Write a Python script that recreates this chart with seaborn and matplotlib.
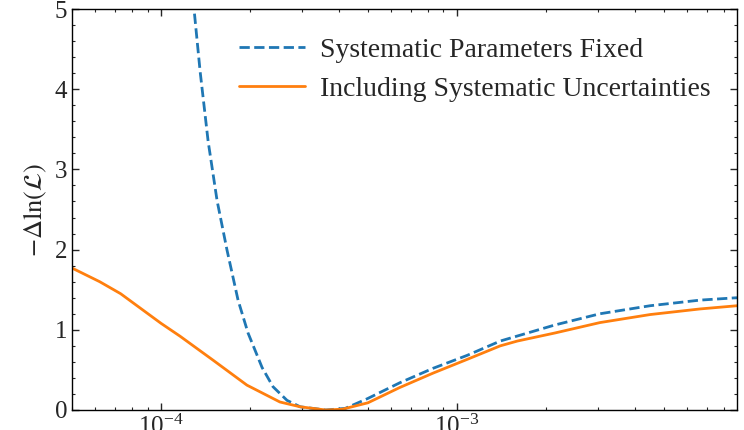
import numpy as np
import pandas as pd
import matplotlib
matplotlib.use('Agg')
import matplotlib.pyplot as plt
from matplotlib.ticker import AutoMinorLocator, LogLocator, NullFormatter
import seaborn as sns

# values
fixed_x = [1.254e-4, 1.292e-4, 1.355e-4, 1.442e-4, 1.546e-4, 1.671e-4, 1.82e-4,
           1.967e-4, 2.194e-4, 2.389e-4, 2.664e-4, 2.951e-4, 3.6e-4, 4.19e-4, 4.97e-4,
           6.41e-4, 8.30e-4, 1.08e-3, 1.40e-3, 2.14e-3, 3.04e-3, 4.49e-3, 6.62e-3, 8.83e-3]
fixed_y = [5.5, 5.0, 4.22, 3.35, 2.61, 1.99, 1.37,
           0.96, 0.53, 0.29, 0.12, 0.04, 0.0, 0.02, 0.14,
           0.34, 0.52, 0.68, 0.86, 1.06, 1.20, 1.30, 1.37, 1.40]

syst_x = [5.0e-5, 6.2e-5, 7.3e-5, 1.0e-4, 1.159e-4, 1.50e-4, 1.95e-4, 2.52e-4, 2.95e-4,
          3.6e-4, 4.1e-4, 5.0e-4, 6.4e-4, 8.3e-4, 1.08e-3, 1.4e-3, 1.6e-3, 2.14e-3,
          3.04e-3, 4.49e-3, 6.62e-3, 8.83e-3]
syst_y = [1.77, 1.60, 1.45, 1.08, 0.92, 0.62, 0.31, 0.10, 0.04,
          0.0, 0.01, 0.09, 0.28, 0.46, 0.63, 0.80, 0.86, 0.96,
          1.09, 1.19, 1.26, 1.30]

labels = ['Systematic Parameters Fixed', 'Including Systematic Uncertainties']

df_fixed = pd.DataFrame({'x': fixed_x, 'y': fixed_y})
df_syst = pd.DataFrame({'x': syst_x, 'y': syst_y})

sns.set_style('ticks')
plt.rcParams['font.family'] = ['Liberation Serif', 'DejaVu Serif']
plt.rcParams['mathtext.fontset'] = 'stix'

fig = plt.figure(figsize=(7.44, 4.30), dpi=100)
ax = fig.add_axes([72 / 744, 20 / 430, 665 / 744, 401 / 430])

sns.lineplot(data=df_fixed, x='x', y='y', ax=ax, color='#1f77b4', linestyle='--',
             linewidth=2, label=labels[0], sort=False)
sns.lineplot(data=df_syst, x='x', y='y', ax=ax, color='#ff7f0e', linewidth=2,
             label=labels[1], sort=False)

ax.set_xscale('log')
ax.set_xlim(5.0e-5, 8.83e-3)
ax.set_ylim(0, 5)
ax.set_xlabel('')
ax.set_ylabel(r'$-\Delta\ln(\mathcal{L})$', fontsize=19)

ax.yaxis.set_minor_locator(AutoMinorLocator(5))
ax.xaxis.set_minor_locator(LogLocator(base=10, subs=np.arange(2, 10)))
ax.xaxis.set_minor_formatter(NullFormatter())
ax.tick_params(which='both', direction='in', top=True, right=True, labelsize=18)
ax.tick_params(which='major', length=5, width=1)
ax.tick_params(which='minor', length=2.5, width=0.8)
for s in ax.spines.values():
    s.set_linewidth(1)
    s.set_color('black')

ax.legend(loc='upper right', bbox_to_anchor=(0.998, 0.992), frameon=False, fontsize=20,
          handlelength=2.35, handletextpad=0.55, labelspacing=0.5)

fig.savefig('out.png', dpi=100)
